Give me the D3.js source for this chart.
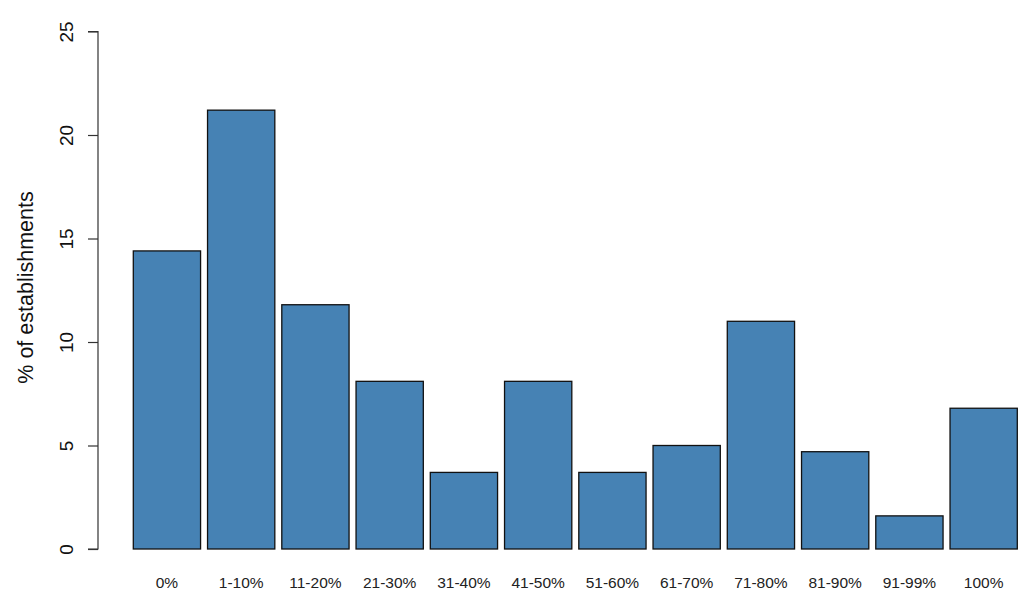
<!DOCTYPE html>
<html><head><meta charset="utf-8">
<script src="https://cdn.jsdelivr.net/npm/d3@7"></script>
<style>body{margin:0;background:#fff}svg{display:block;font-family:"Liberation Sans",Arial,sans-serif}</style>
</head><body>
<svg id="c" width="1035" height="597"></svg>
<script>
const categories = ["0%","1-10%","11-20%","21-30%","31-40%","41-50%","51-60%","61-70%","71-80%","81-90%","91-99%","100%"];
const values = [14.4, 21.2, 11.8, 8.1, 3.7, 8.1, 3.7, 5.0, 11.0, 4.7, 1.6, 6.8];
const yTicks = [0, 5, 10, 15, 20, 25];
const yLabel = "% of establishments";

const svg = d3.select("#c");
const x = d3.scaleBand().domain(categories).range([133.3, 1017.3]).paddingInner(0.094).paddingOuter(0);
const y = d3.scaleLinear().domain([0, 25]).range([549, 31.5]);

svg.append("g").selectAll("rect").data(values).join("rect")
  .attr("x", (d,i) => x(categories[i]))
  .attr("y", d => y(d))
  .attr("width", x.bandwidth())
  .attr("height", d => y(0) - y(d))
  .attr("fill", "#4682B4")
  .attr("stroke", "#111")
  .attr("stroke-width", 1.3);

const ya = svg.append("g").attr("transform", "translate(98,0)")
  .call(d3.axisLeft(y).tickValues(yTicks).tickSize(10).tickPadding(0).tickFormat(d3.format("d")));
ya.select(".domain").attr("stroke", "#333").attr("stroke-width", 1.2).attr("d", `M-10,${y(0)}H0V${y(25)}H-10`);
ya.selectAll(".tick line").attr("stroke", "#333").attr("stroke-width", 1.2);
ya.selectAll(".tick text").attr("font-size", 19).attr("fill", "#111")
  .attr("x", 0).attr("dy", 0).attr("text-anchor", "middle")
  .attr("transform", "translate(-25,0) rotate(-90)");

svg.append("g").selectAll("text").data(categories).join("text")
  .attr("x", d => x(d) + x.bandwidth()/2)
  .attr("y", 588)
  .attr("text-anchor", "middle")
  .attr("font-size", 15.5)
  .attr("fill", "#222")
  .text(d => d);

svg.append("text")
  .attr("transform", "translate(33,287.5) rotate(-90)")
  .attr("text-anchor", "middle")
  .attr("font-size", 21.5)
  .attr("fill", "#111")
  .text(yLabel);
</script>
</body></html>
